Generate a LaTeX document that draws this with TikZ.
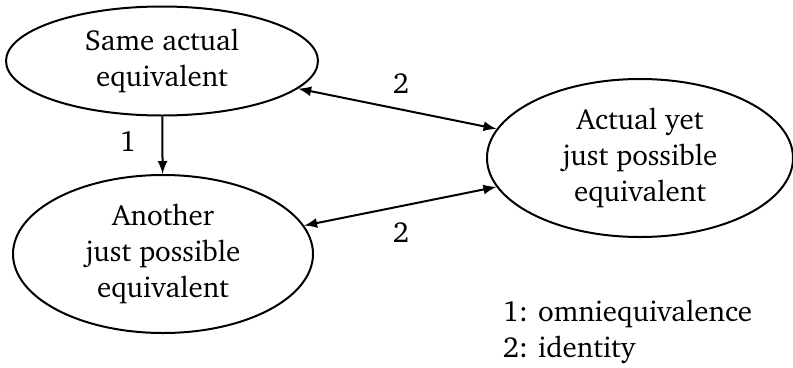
\documentclass[tikz,border=0pt]{standalone}
\usepackage[T1]{fontenc}
\usepackage{charter}
\usepackage{tikz}
\usetikzlibrary{shapes.geometric}

\begin{document}
\begin{tikzpicture}[x=0.4pt,y=-0.4pt,>=latex,
  equiv/.style={draw,thick,ellipse,align=center,inner sep=0pt,font=\fontsize{11.6}{14.4}\selectfont},
  rel/.style={font=\fontsize{11.6}{14.4}\selectfont}]
\useasboundingbox (0,0) rectangle (793,367);
\node[equiv,minimum width=124.8pt,minimum height=43.6pt] (same) at (162,61) {Same actual\\equivalent};
\node[equiv,minimum width=120pt,minimum height=63.2pt] (another) at (163,254) {Another\\just possible\\equivalent};
\node[equiv,minimum width=122.4pt,minimum height=63.2pt] (actual) at (640,158) {Actual yet\\just possible\\equivalent};
\draw[->,thick] (same) -- (another);
\draw[<->,thick] (same) -- (actual);
\draw[<->,thick] (another) -- (actual);
\node[rel] (l1) at (128,142) {1};
\node[rel] (l2a) at (401,84) {2};
\node[rel] (l2b) at (401,233) {2};
\node[rel,anchor=north west,align=left] (legend) at (494,291) {1: omniequivalence\\2: identity};
\end{tikzpicture}
\end{document}
